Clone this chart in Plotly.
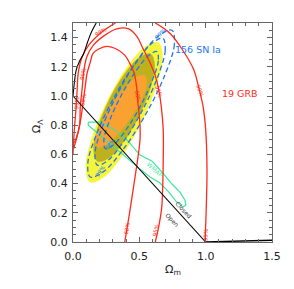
import plotly.graph_objects as go

# ---------------- data ----------------
x_tick_vals = [0.0, 0.5, 1.0, 1.5]
x_tick_text = ["0.0", "0.5", "1.0", "1.5"]
y_tick_vals = [0.0, 0.2, 0.4, 0.6, 0.8, 1.0, 1.2, 1.4]
y_tick_text = ["0.0", "0.2", "0.4", "0.6", "0.8", "1.0", "1.2", "1.4"]

# combined filled confidence regions
fill3_om = [0.641, 0.674, 0.630, 0.521, 0.375, 0.232, 0.130, 0.097, 0.140, 0.250, 0.396, 0.539]
fill3_ol = [1.368, 1.274, 1.077, 0.830, 0.598, 0.445, 0.410, 0.505, 0.702, 0.949, 1.181, 1.334]
fill2_om = [0.585, 0.615, 0.585, 0.500, 0.385, 0.270, 0.186, 0.156, 0.186, 0.271, 0.386, 0.501]
fill2_ol = [1.288, 1.213, 1.060, 0.869, 0.692, 0.576, 0.552, 0.627, 0.780, 0.971, 1.148, 1.264]
fill1_om = [0.540, 0.556, 0.515, 0.436, 0.335, 0.240, 0.180, 0.170, 0.212, 0.294, 0.392, 0.484]
fill1_ol = [1.140, 1.080, 0.976, 0.852, 0.735, 0.661, 0.650, 0.712, 0.815, 0.942, 1.058, 1.132]

# 156 SN Ia contours (blue dashed)
sn99_om = [0.746, 0.764, 0.694, 0.556, 0.386, 0.230, 0.130, 0.112, 0.182, 0.320, 0.490, 0.646]
sn99_ol = [1.450, 1.353, 1.147, 0.887, 0.644, 0.482, 0.445, 0.542, 0.748, 1.008, 1.251, 1.413]
sn95_om = [0.678, 0.695, 0.641, 0.530, 0.393, 0.266, 0.183, 0.166, 0.220, 0.331, 0.468, 0.595]
sn95_ol = [1.395, 1.314, 1.137, 0.914, 0.703, 0.561, 0.527, 0.608, 0.785, 1.008, 1.219, 1.361]
sn68_om = [0.632, 0.643, 0.598, 0.511, 0.404, 0.306, 0.244, 0.233, 0.278, 0.365, 0.472, 0.570]
sn68_ol = [1.304, 1.241, 1.107, 0.936, 0.774, 0.666, 0.639, 0.701, 0.836, 1.007, 1.168, 1.277]

# 19 GRB contours (red)
grb99a_om = [0.0, 0.01, 0.02, 0.03, 0.04, 0.07, 0.12, 0.22, 0.32]
grb99a_ol = [0.60, 0.77, 0.88, 1.02, 1.16, 1.27, 1.35, 1.44, 1.50]
grb99b_om = [0.62, 0.73, 0.83, 0.91, 0.95, 0.98, 1.00, 1.01, 1.005, 0.995]
grb99b_ol = [1.50, 1.43, 1.31, 1.18, 1.05, 0.93, 0.77, 0.50, 0.25, 0.0]
grb95_om = [0.005, 0.03, 0.05, 0.055, 0.07, 0.08, 0.105, 0.155, 0.23, 0.33, 0.42, 0.48, 0.53,
            0.58, 0.62, 0.645, 0.665, 0.68, 0.68, 0.675, 0.668, 0.645, 0.62]
grb95_ol = [0.64, 0.72, 0.80, 0.93, 1.06, 1.16, 1.27, 1.35, 1.41, 1.46, 1.46, 1.41, 1.32,
            1.23, 1.14, 1.05, 0.93, 0.77, 0.55, 0.35, 0.23, 0.10, 0.0]
grb68_om = [0.012, 0.04, 0.06, 0.075, 0.09, 0.105, 0.13, 0.15, 0.19, 0.255, 0.33, 0.39,
            0.43, 0.46, 0.48, 0.49, 0.505, 0.505, 0.485, 0.46, 0.43, 0.405, 0.39]
grb68_ol = [0.68, 0.76, 0.85, 0.95, 1.05, 1.15, 1.23, 1.29, 1.32, 1.34, 1.32, 1.28,
            1.22, 1.16, 1.06, 0.95, 0.80, 0.70, 0.55, 0.40, 0.22, 0.08, 0.0]

# WMAP contour (green)
wmap_om = [0.115, 0.205, 0.318, 0.415, 0.506, 0.596, 0.671, 0.746, 0.806, 0.844, 0.851,
           0.829, 0.776, 0.716, 0.656, 0.581, 0.506, 0.415, 0.318, 0.220, 0.153, 0.115]
wmap_ol = [0.821, 0.821, 0.766, 0.691, 0.595, 0.554, 0.479, 0.397, 0.342, 0.287, 0.253,
           0.239, 0.280, 0.349, 0.404, 0.445, 0.499, 0.568, 0.643, 0.718, 0.773, 0.800]

# boundaries (black)
flat_om = [0.0, 1.0]
flat_ol = [1.0, 0.0]
nobb_om = [0.0, 0.01, 0.025, 0.05, 0.08, 0.11, 0.14, 0.175]
nobb_ol = [1.0, 1.09, 1.18, 1.24, 1.29, 1.37, 1.44, 1.50]
recoll_om = [1.0, 1.5]
recoll_ol = [0.0, 0.012]

YELLOW = "#f7f53a"
OLIVE = "#bdb21e"
ORANGE = "#f9a231"
BLUE = "#2277ee"
RED = "#ff2a1a"
GREEN = "#3ce69a"


def closed(a):
    return list(a) + [a[0]]


fig = go.Figure()

for om, ol, col in [(fill3_om, fill3_ol, YELLOW), (fill2_om, fill2_ol, OLIVE),
                    (fill1_om, fill1_ol, ORANGE)]:
    fig.add_trace(go.Scatter(x=closed(om), y=closed(ol), mode="lines", fill="toself",
                             fillcolor=col, line=dict(color=col, width=0.5, shape="spline"),
                             hoverinfo="skip", showlegend=False))

fig.add_trace(go.Scatter(x=closed(wmap_om), y=closed(wmap_ol), mode="lines",
                         line=dict(color=GREEN, width=1.2), hoverinfo="skip", showlegend=False))

for om, ol in [(sn99_om, sn99_ol), (sn95_om, sn95_ol), (sn68_om, sn68_ol)]:
    fig.add_trace(go.Scatter(x=closed(om), y=closed(ol), mode="lines",
                             line=dict(color=BLUE, width=1.3, dash="5px,3px", shape="spline"),
                             hoverinfo="skip", showlegend=False))

for om, ol in [(grb99a_om, grb99a_ol), (grb99b_om, grb99b_ol), (grb95_om, grb95_ol),
               (grb68_om, grb68_ol)]:
    fig.add_trace(go.Scatter(x=om, y=ol, mode="lines",
                             line=dict(color=RED, width=1.3, shape="spline"),
                             hoverinfo="skip", showlegend=False))

for om, ol, w in [(flat_om, flat_ol, 1.1), (nobb_om, nobb_ol, 1.1), (recoll_om, recoll_ol, 1.3)]:
    fig.add_trace(go.Scatter(x=om, y=ol, mode="lines",
                             line=dict(color="black", width=w, shape="spline"),
                             hoverinfo="skip", showlegend=False))

ann = []
# contour labels
red_labels = [(0.21, 1.435, "99%", -30), (0.03, 0.95, "99%", -85), (0.955, 1.04, "99%", 70),
              (0.998, 0.05, "99%", -88), (0.075, 1.15, "95%", -80), (0.65, 1.03, "95%", 72),
              (0.627, 0.08, "95%", -80), (0.08, 0.97, "68%", -80), (0.488, 1.0, "68%", 80),
              (0.405, 0.09, "68%", -80)]
for x, y, t, a in red_labels:
    ann.append(dict(x=x, y=y, text=t, showarrow=False, textangle=a,
                    font=dict(size=5.5, color=RED, family="DejaVu Sans")))
blue_labels = [(0.655, 1.425, "99%", -45), (0.205, 0.485, "99%", -55), (0.28, 0.67, "68%", -50)]
for x, y, t, a in blue_labels:
    ann.append(dict(x=x, y=y, text=t, showarrow=False, textangle=a,
                    font=dict(size=5.5, color=BLUE, family="DejaVu Sans")))

ann += [
    dict(x=0.755, y=1.32, text="156 SN Ia", showarrow=False, xanchor="left",
         font=dict(size=9.5, color=BLUE, family="DejaVu Sans")),
    dict(x=1.105, y=1.02, text="19 GRB", showarrow=False, xanchor="left",
         font=dict(size=9.5, color=RED, family="DejaVu Sans")),
    dict(x=0.62, y=0.50, text="WMAP", showarrow=False, textangle=42,
         font=dict(size=6, color=GREEN, family="DejaVu Sans")),
    dict(x=0.835, y=0.225, text="Closed", showarrow=False, textangle=47,
         font=dict(size=6, color="#333", family="DejaVu Sans")),
    dict(x=0.745, y=0.15, text="Open", showarrow=False, textangle=47,
         font=dict(size=6, color="#333", family="DejaVu Sans")),
    dict(xref="paper", yref="paper", x=0.5025, y=-0.17, text="Ω<sub>m</sub>",
         showarrow=False, font=dict(size=11, color="#222", family="DejaVu Sans")),
    dict(xref="paper", yref="paper", x=-0.225, y=0.53, text="Ω<sub>Λ</sub>", textangle=-90,
         showarrow=False, font=dict(size=11, color="#222", family="DejaVu Sans")),
]

axis_common = dict(showgrid=False, zeroline=False, showline=True, linecolor="#666",
                   linewidth=1, mirror="ticks", ticks="inside", ticklen=5, tickwidth=1,
                   tickcolor="#666", automargin=False,
                   tickfont=dict(size=11, color="#222", family="DejaVu Sans"))

fig.update_layout(
    width=294, height=289,
    margin=dict(l=73, r=22, t=23, b=47),
    paper_bgcolor="white", plot_bgcolor="white",
    showlegend=False,
    annotations=ann,
    xaxis=dict(range=[0, 1.5], tickvals=x_tick_vals, ticktext=x_tick_text,
               minor=dict(dtick=0.1, ticks="inside", ticklen=3, tickcolor="#666"),
               ticklabelstandoff=4, **axis_common),
    yaxis=dict(range=[0, 1.5], tickvals=y_tick_vals, ticktext=y_tick_text,
               minor=dict(dtick=0.05, ticks="inside", ticklen=3, tickcolor="#666"),
               ticklabelstandoff=2, **axis_common),
)

fig.write_html("out.html", config={"displayModeBar": False},
               post_script="document.body.style.margin='0px';")
